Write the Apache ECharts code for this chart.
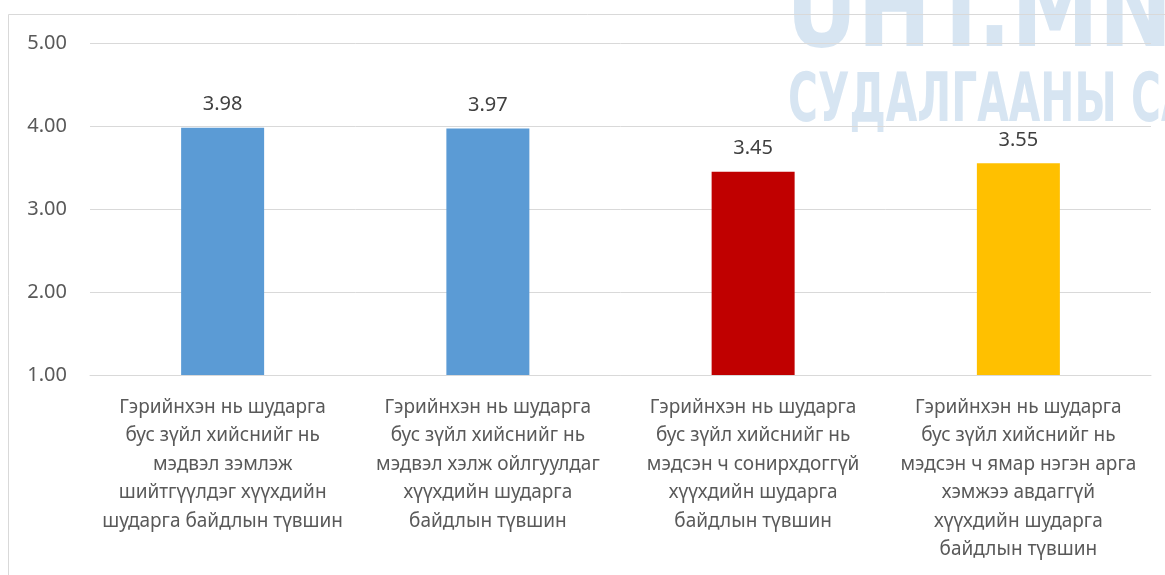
<!DOCTYPE html>
<html>
<head>
<meta charset="utf-8">
<script src="https://cdn.jsdelivr.net/npm/echarts@6/dist/echarts.min.js"></script>
<style>
  html, body { margin: 0; padding: 0; background: #fff; }
  #chart { width: 1165px; height: 575px; }
</style>
</head>
<body>
<div id="chart"></div>
<script>
// chart data
const categories = [
  'Гэрийнхэн нь шударга\nбус зүйл хийснийг нь\nмэдвэл зэмлэж\nшийтгүүлдэг хүүхдийн\nшударга байдлын түвшин',
  'Гэрийнхэн нь шударга\nбус зүйл хийснийг нь\nмэдвэл хэлж ойлгуулдаг\nхүүхдийн шударга\nбайдлын түвшин',
  'Гэрийнхэн нь шударга\nбус зүйл хийснийг нь\nмэдсэн ч сонирхдоггүй\nхүүхдийн шударга\nбайдлын түвшин',
  'Гэрийнхэн нь шударга\nбус зүйл хийснийг нь\nмэдсэн ч ямар нэгэн арга\nхэмжээ авдаггүй\nхүүхдийн шударга\nбайдлын түвшин'
];
const values = [3.98, 3.97, 3.45, 3.55];
const barColors = ['#5b9bd5', '#5b9bd5', '#c00000', '#ffc000'];

const font = '"Noto Sans", "Open Sans", sans-serif';
const wmFont = '"DejaVu Sans", sans-serif';
const chart = echarts.init(document.getElementById('chart'));

chart.setOption({
  animation: false,
  backgroundColor: '#fff',
  grid: { left: 90, right: 14, top: 43, bottom: 200, containLabel: false },
  graphic: [
    // outer chart frame
    { type: 'rect', z: 0, shape: { x: 8.5, y: 14.5, width: 1200, height: 600 },
      style: { fill: 'none', stroke: '#d9d9d9', lineWidth: 1 } },
    // watermark (partly cut off in the original)
    { type: 'text', z: -1, x: 786, y: 72, scaleX: 0.8,
      style: { text: 'UHT.MN', font: 'bold 110px ' + wmFont,
        fill: 'rgba(189,211,234,0.6)', verticalAlign: 'bottom' } },
    { type: 'text', z: -1, x: 788, y: 103, scaleX: 0.6,
      style: { text: 'СУДАЛГААНЫ СА', font: 'bold 68px ' + wmFont,
        fill: 'rgba(189,211,234,0.6)', verticalAlign: 'middle' } }
  ],
  xAxis: {
    type: 'category',
    data: categories,
    axisLine: { show: true, lineStyle: { color: '#d9d9d9', width: 1 } },
    axisTick: { show: false },
    axisLabel: {
      interval: 0, margin: 18, color: '#595959',
      fontFamily: font, fontSize: 19, lineHeight: 28.5, align: 'center'
    }
  },
  yAxis: {
    type: 'value',
    min: 1, max: 5, interval: 1,
    axisLine: { show: false },
    axisTick: { show: false },
    splitLine: { lineStyle: { color: '#d9d9d9', width: 1 } },
    axisLabel: {
      margin: 23, color: '#595959', fontFamily: font, fontSize: 20,
      formatter: v => v.toFixed(2)
    }
  },
  series: [{
    type: 'bar',
    barWidth: 83,
    data: values.map((v, i) => ({ value: v, itemStyle: { color: barColors[i] } })),
    label: {
      show: true, position: 'top', distance: 13,
      color: '#404040', fontFamily: font, fontSize: 20,
      formatter: p => p.value.toFixed(2)
    }
  }]
});
</script>
</body>
</html>
